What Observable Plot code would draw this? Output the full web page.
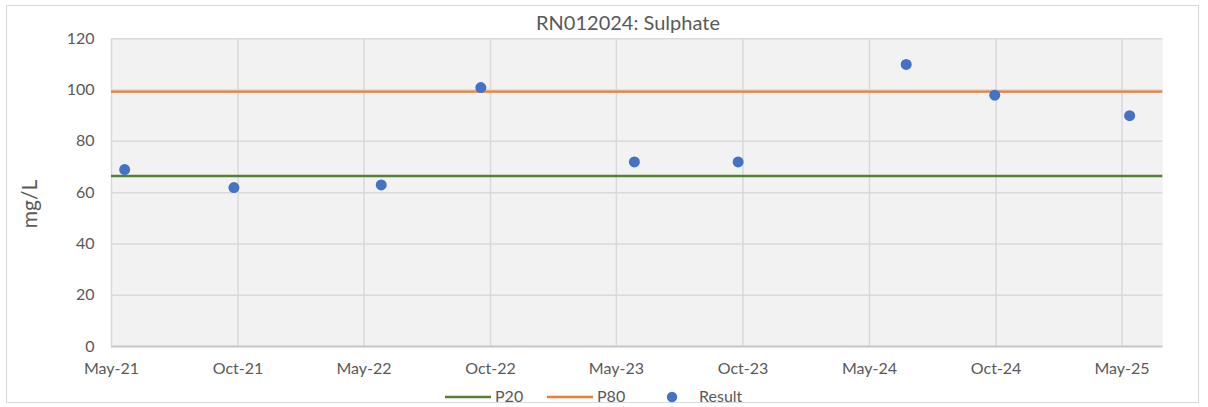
<!DOCTYPE html>
<html><head><meta charset="utf-8">
<script src="https://cdn.jsdelivr.net/npm/d3@7"></script>
<script src="https://cdn.jsdelivr.net/npm/@observablehq/plot@0.6"></script>
<style>
body{margin:0;background:#fff;font-family:Lato, "Open Sans", sans-serif;}
#wrap{position:relative;width:1208px;height:407px;overflow:hidden;}
#border{position:absolute;left:6px;top:5px;width:1193px;height:398px;border:1px solid #d9d9d9;box-sizing:border-box;}
#title{position:absolute;left:428px;width:400px;top:10px;text-align:center;font-size:20px;color:#595959;line-height:24px;white-space:nowrap;}
#ylabel{position:absolute;left:28px;top:204px;transform:translate(-50%,-50%) rotate(-90deg);font-size:21px;color:#595959;white-space:nowrap;}
#chart{position:absolute;left:0;top:0;}
.lg{position:absolute;font-size:16px;color:#595959;line-height:20px;top:386px;}
</style></head>
<body>
<div id="wrap">
  <div id="border"></div>
  <div id="chart"></div>
  <div id="title">RN012024: Sulphate</div>
  <div id="ylabel">mg/L</div>
  <div id="legend"></div>
</div>
<script>
// Sample dates and results (mg/L)
const sampleDates = ["2021-05-20","2021-10-25","2022-05-26","2022-10-17","2023-05-27","2023-10-24","2024-06-23","2024-10-29","2025-05-12"];
const results = [69, 62, 63, 101, 72, 72, 110, 98, 90];
// Percentile thresholds
const p20 = 66.5;
const p80 = 99.4;
// Axis ticks
const xTickDates = ["2021-05-01","2021-10-31","2022-05-01","2022-10-31","2023-05-01","2023-10-31","2024-05-01","2024-10-31","2025-05-01"];
const xTickLabels = ["May-21","Oct-21","May-22","Oct-22","May-23","Oct-23","May-24","Oct-24","May-25"];
const yTicks = [0, 20, 40, 60, 80, 100, 120];
const xDomain = ["2021-05-01","2025-06-29"];

const parse = d3.utcParse("%Y-%m-%d");
const data = sampleDates.map((d, i) => ({date: parse(d), value: results[i]}));
const ticks = xTickDates.map(parse);
const labelFor = new Map(ticks.map((t, i) => [+t, xTickLabels[i]]));

const grid = "#d9d9d9";
const txt = "#595959";
const blue = "#4472c4", orange = "#ed7d31", green = "#548235";

const chart = Plot.plot({
  width: 1208,
  height: 380,
  marginLeft: 111,
  marginRight: 45.7,
  marginTop: 38.3,
  marginBottom: 34,
  style: {fontFamily: "Lato, 'Open Sans', sans-serif", fontSize: "16px", color: txt, background: "transparent", overflow: "visible"},
  x: {type: "utc", domain: xDomain.map(parse), ticks: ticks, tickFormat: d => labelFor.get(+d), label: null},
  y: {domain: [0, 120], ticks: yTicks, label: null},
  marks: [
    Plot.frame({fill: "#f2f2f2", stroke: null}),
    Plot.gridX(ticks, {stroke: grid, strokeOpacity: 1, strokeWidth: 1.5}),
    Plot.gridY(yTicks, {stroke: grid, strokeOpacity: 1, strokeWidth: 1.5}),
    Plot.ruleY([0], {stroke: "#c9c9c9", strokeWidth: 1.8}),
    Plot.axisX({ticks: ticks, tickSize: 0, tickPadding: 16, tickFormat: d => labelFor.get(+d), fill: txt, fontSize: 16}),
    Plot.axisY({ticks: yTicks, tickSize: 0, tickPadding: 17, fill: txt, fontSize: 16}),
    Plot.ruleY([p20], {stroke: green, strokeWidth: 2.4}),
    Plot.ruleY([p80], {stroke: orange, strokeWidth: 2.4}),
    Plot.dot(data, {x: "date", y: "value", r: 5.5, fill: blue, stroke: null})
  ]
});
document.getElementById("chart").appendChild(chart);

// Legend
const legend = document.getElementById("legend");
const items = [
  {label: "P20", kind: "line", color: green, x: 445, tx: 495},
  {label: "P80", kind: "line", color: orange, x: 547, tx: 597},
  {label: "Result", kind: "dot", color: blue, x: 666, tx: 699}
];
for (const it of items) {
  const sw = document.createElementNS("http://www.w3.org/2000/svg", "svg");
  sw.setAttribute("width", it.kind === "line" ? 46 : 12);
  sw.setAttribute("height", 12);
  sw.style.position = "absolute";
  sw.style.left = it.x + "px";
  sw.style.top = "391px";
  if (it.kind === "line") {
    const l = document.createElementNS("http://www.w3.org/2000/svg", "line");
    l.setAttribute("x1", 0); l.setAttribute("x2", 46);
    l.setAttribute("y1", 6); l.setAttribute("y2", 6);
    l.setAttribute("stroke", it.color); l.setAttribute("stroke-width", 2.4);
    sw.appendChild(l);
  } else {
    const c = document.createElementNS("http://www.w3.org/2000/svg", "circle");
    c.setAttribute("cx", 6); c.setAttribute("cy", 6); c.setAttribute("r", 5.2);
    c.setAttribute("fill", it.color);
    sw.appendChild(c);
  }
  legend.appendChild(sw);
  const t = document.createElement("div");
  t.className = "lg";
  t.style.left = it.tx + "px";
  t.textContent = it.label;
  legend.appendChild(t);
}
</script>
</body></html>
